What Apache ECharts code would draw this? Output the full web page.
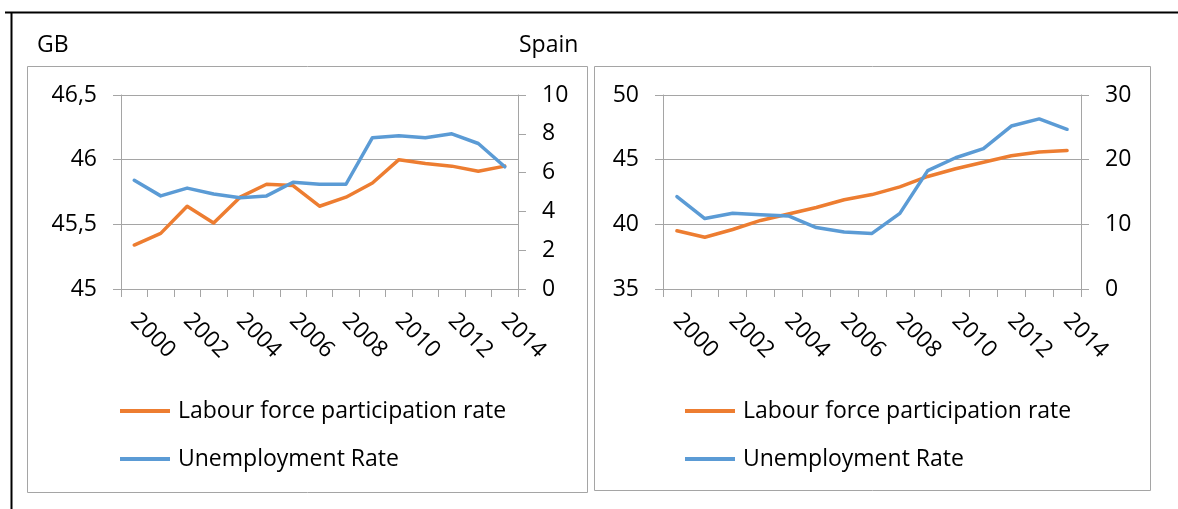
<!DOCTYPE html>
<html>
<head>
<meta charset="utf-8">
<script src="https://cdn.jsdelivr.net/npm/echarts@6/dist/echarts.min.js"></script>
<style>
  html, body { margin: 0; padding: 0; background: #fff; }
  #chart { width: 1178px; height: 509px; }
</style>
</head>
<body>
<div id="chart"></div>
<script>
// categories
const years = ['2000', '2001', '2002', '2003', '2004', '2005', '2006', '2007',
  '2008', '2009', '2010', '2011', '2012', '2013', '2014']

// GB
const gbParticipation = [45.34, 45.43, 45.64, 45.51, 45.71, 45.81, 45.80, 45.64,
  45.71, 45.82, 46.00, 45.97, 45.95, 45.91, 45.95]
const gbUnemployment = [5.6, 4.8, 5.2, 4.9, 4.7, 4.8, 5.5, 5.4,
  5.4, 7.8, 7.9, 7.8, 8.0, 7.5, 6.3]

// Spain
const esParticipation = [39.5, 39.0, 39.6, 40.3, 40.8, 41.3, 41.9, 42.3,
  42.9, 43.7, 44.3, 44.8, 45.3, 45.6, 45.7]
const esUnemployment = [14.3, 10.9, 11.7, 11.5, 11.3, 9.5, 8.8, 8.6,
  11.7, 18.3, 20.3, 21.7, 25.2, 26.3, 24.7]

// axis ranges [min, max, step]
const gbLeftRange = [45, 46.5, 0.5]
const gbRightRange = [0, 10, 2]
const esLeftRange = [35, 50, 5]
const esRightRange = [0, 30, 10]

const seriesNames = ['Labour force participation rate', 'Unemployment Rate']
const panelTitles = ['GB', 'Spain']

const FONT = '"Open Sans", Lato, sans-serif'
const GRAY = '#a5a5a5'
const ORANGE = '#ED7D31'
const BLUE = '#5B9BD5'
const FS = 23

function commaFmt(v) {
  return String(v).replace('.', ',')
}

function valueAxis(grid, pos, range, split) {
  return {
    type: 'value',
    gridIndex: grid,
    position: pos,
    min: range[0],
    max: range[1],
    interval: range[2],
    axisLine: { show: true, lineStyle: { color: GRAY, width: 1 } },
    axisTick: { show: true, length: 8, lineStyle: { color: GRAY } },
    splitLine: { show: split, lineStyle: { color: GRAY, width: 1 } },
    axisLabel: { color: '#000', fontSize: FS, fontFamily: FONT, margin: 24, formatter: commaFmt },
  }
}

function catAxis(grid) {
  return {
    type: 'category',
    gridIndex: grid,
    data: years,
    boundaryGap: true,
    axisLine: { show: true, lineStyle: { color: GRAY, width: 1 } },
    axisTick: { show: true, interval: 0, length: 8, lineStyle: { color: GRAY } },
    axisLabel: {
      interval: 1, rotate: -45, margin: 28,
      color: '#000', fontSize: FS, fontFamily: FONT,
    },
  }
}

function lineSeries(name, data, color, xi, yi) {
  return {
    type: 'line',
    name,
    data,
    xAxisIndex: xi,
    yAxisIndex: yi,
    symbol: 'none',
    lineStyle: { color, width: 3.5, cap: 'round', join: 'round' },
    itemStyle: { color },
    animation: false,
  }
}

function legendAt(left) {
  return {
    left,
    top: 394,
    orient: 'vertical',
    icon: 'rect',
    itemWidth: 50,
    itemHeight: 4,
    itemGap: 24,
    data: seriesNames,
    textStyle: { color: '#000', fontSize: FS, fontFamily: FONT, lineHeight: 24, padding: [0, 0, 0, 3] },
    selectedMode: false,
  }
}

const chart = echarts.init(document.getElementById('chart'), null, { renderer: 'canvas' })

chart.setOption({
  animation: false,
  backgroundColor: '#fff',
  textStyle: { fontFamily: FONT },
  grid: [
    { left: 121, top: 95, width: 397, height: 194 },
    { left: 663, top: 95, width: 418, height: 194 },
  ],
  xAxis: [catAxis(0), catAxis(1)],
  yAxis: [
    valueAxis(0, 'left', gbLeftRange, true),
    valueAxis(0, 'right', gbRightRange, false),
    valueAxis(1, 'left', esLeftRange, true),
    valueAxis(1, 'right', esRightRange, false),
  ],
  legend: [legendAt(115), legendAt(680)],
  series: [
    lineSeries(seriesNames[0], gbParticipation, ORANGE, 0, 0),
    lineSeries(seriesNames[1], gbUnemployment, BLUE, 0, 1),
    lineSeries(seriesNames[0], esParticipation, ORANGE, 1, 2),
    lineSeries(seriesNames[1], esUnemployment, BLUE, 1, 3),
  ],
  graphic: [
    // outer frame
    { type: 'line', silent: true, shape: { x1: 5, y1: 12.5, x2: 1178, y2: 12.5 }, style: { stroke: '#000', lineWidth: 2 } },
    { type: 'line', silent: true, shape: { x1: 11.5, y1: 12, x2: 11.5, y2: 509 }, style: { stroke: '#000', lineWidth: 2 } },
    // chart boxes
    { type: 'rect', silent: true, z: -1, shape: { x: 27.5, y: 66.5, width: 560, height: 426 }, style: { fill: 'none', stroke: GRAY, lineWidth: 1 } },
    { type: 'rect', silent: true, z: -1, shape: { x: 594.5, y: 66.5, width: 556, height: 424 }, style: { fill: 'none', stroke: GRAY, lineWidth: 1 } },
    // panel titles
    { type: 'text', silent: true, style: { text: panelTitles[0], x: 37, y: 45, fill: '#000', fontSize: FS, fontFamily: FONT, verticalAlign: 'middle' } },
    { type: 'text', silent: true, style: { text: panelTitles[1], x: 519, y: 45, fill: '#000', fontSize: FS, fontFamily: FONT, verticalAlign: 'middle' } },
  ],
})

window.addEventListener('resize', () => chart.resize())
</script>
</body>
</html>
